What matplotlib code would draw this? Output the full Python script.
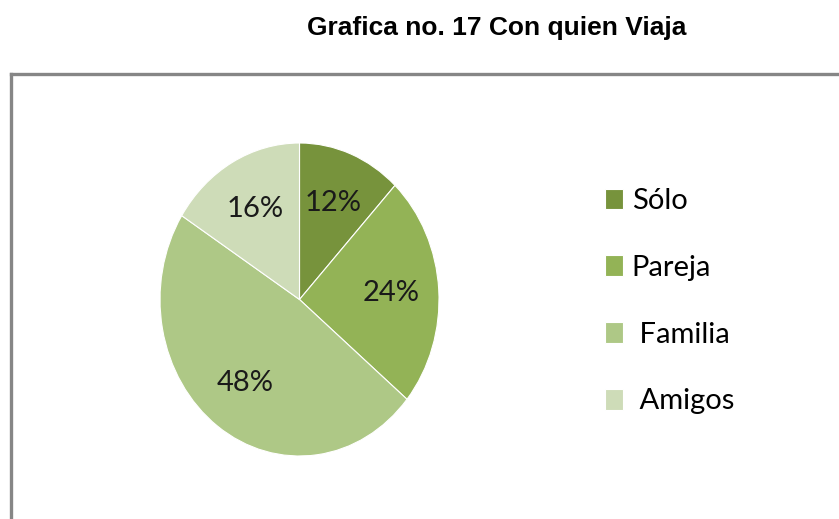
import matplotlib
matplotlib.use("Agg")
import matplotlib.pyplot as plt
from matplotlib.lines import Line2D

categories = ["Sólo", "Pareja", "Familia", "Amigos"]
values = [12, 24, 48, 16]
legend_labels = ["Sólo", "Pareja", " Familia", " Amigos"]
colors = ["#77933C", "#93B356", "#AEC886", "#CEDCB8"]

W, H = 839, 519
fig = plt.figure(figsize=(W / 100, H / 100), dpi=100)
fig.patch.set_facecolor("white")

# pie axes (elliptical, as in the reference)
ax = fig.add_axes([160 / W, 1 - 456 / H, 279 / W, 313 / H])
wedges, texts, autotexts = ax.pie(
    values, colors=colors, startangle=90, counterclock=False,
    autopct="%d%%", pctdistance=0.66,
    wedgeprops=dict(edgecolor="white", linewidth=0.8),
    textprops=dict(fontsize=21, family="Lato", color="#1a1a1a"),
)
ax.set_aspect("auto")
ax.set_xlim(-1, 1)
ax.set_ylim(-1, 1)

fig.legend(wedges, legend_labels, loc="upper left",
           bbox_to_anchor=(605 / W, 1 - 188 / H), frameon=False,
           borderpad=0, borderaxespad=0,
           prop=dict(family="Lato", size=21), handlelength=0.62,
           handleheight=0.7, handletextpad=0.3, labelspacing=1.4)

fig.text(497 / W, 1 - 28 / H, "Grafica no. 17 Con quien Viaja",
         ha="center", va="center", fontsize=19, fontweight="bold",
         family="Liberation Sans")

# chart frame (cropped at right and bottom)
fig.add_artist(Line2D([10.5 / W, 10.5 / W], [1 - 73.5 / H, -0.05],
                      color="#868686", linewidth=2.4, transform=fig.transFigure))
fig.add_artist(Line2D([10.5 / W, 1.05], [1 - 73.5 / H, 1 - 73.5 / H],
                      color="#868686", linewidth=2.4, transform=fig.transFigure))

fig.savefig("out.png", dpi=100)
